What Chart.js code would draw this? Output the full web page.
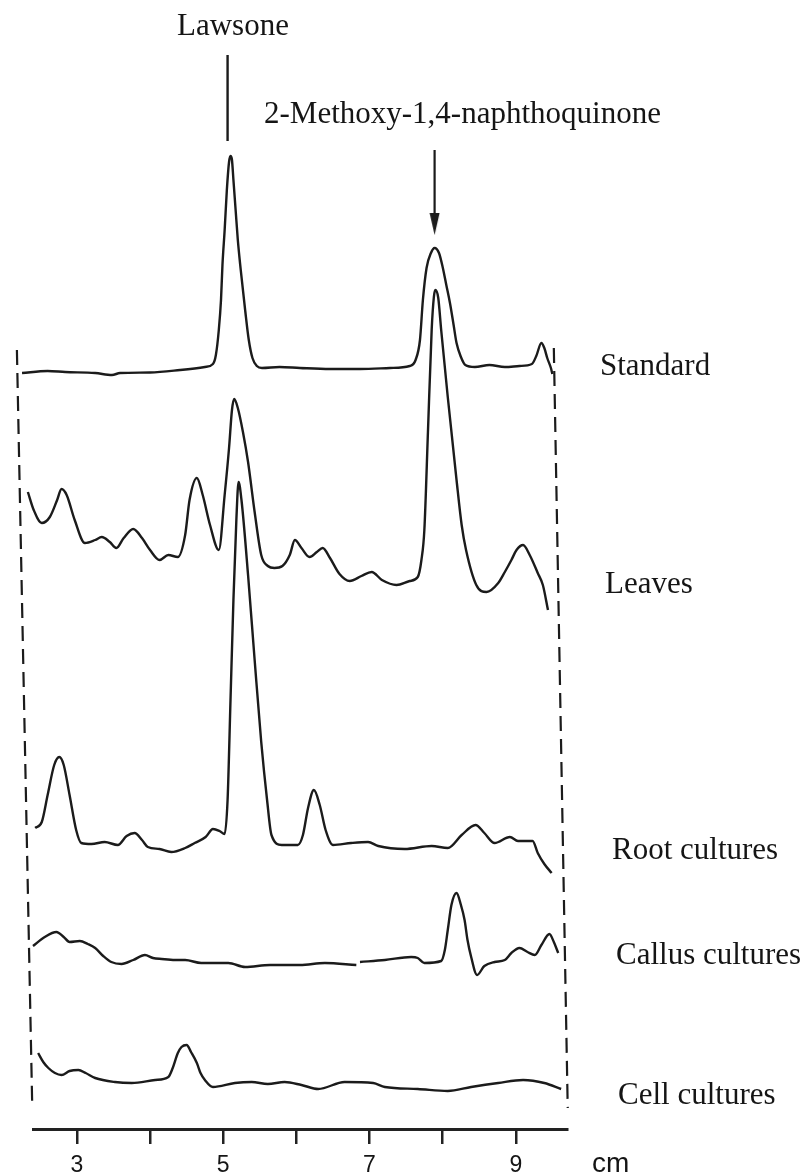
<!DOCTYPE html>
<html>
<head>
<meta charset="utf-8">
<script src="https://cdn.jsdelivr.net/npm/chart.js@4.4.1/dist/chart.umd.min.js"></script>
<style>
  html, body { margin: 0; padding: 0; background: #ffffff; }
  #wrap { width: 805px; height: 1176px; position: relative; background: #ffffff; overflow: hidden; }
  canvas { display: block; }
</style>
</head>
<body>
<div id="wrap"><canvas id="c" width="805" height="1176"></canvas></div>
<script>
// ---- Data (x in cm, signal = detector response above each trace's own baseline, arb. units) ----
const tickValues = [3, 4, 5, 6, 7, 8, 9];
const tickLabels = ['3', '', '5', '', '7', '', '9'];

const standardCm  = [2.25,2.60,2.84,3.25,3.48,3.59,4.00,4.41,4.75,4.86,4.90,4.94,4.97,4.99,5.02,5.05,5.08,5.10,5.12,5.14,5.17,5.20,5.24,5.30,5.35,5.40,5.46,5.53,5.77,6.05,6.46,6.87,7.28,7.55,7.63,7.69,7.73,7.78,7.84,7.89,7.95,8.00,8.05,8.10,8.15,8.19,8.25,8.31,8.44,8.64,8.85,9.05,9.22,9.28,9.35,9.39,9.43,9.48,9.50];
const standardSig = [-3,-1,-2,-3,-5,-3,-2.5,0,3,6,15,40,70,105,140,180,208,214,210,190,160,130,100,60,30,12,4,2,3,2,1,1,2,4,10,30,70,102,117,122,117,103,85,67,45,27,13,5,3,5,3,4,6,14,27,22,12,2,-4];

const leavesCm  = [2.33,2.41,2.52,2.63,2.73,2.79,2.86,2.97,3.11,3.25,3.34,3.45,3.54,3.64,3.77,3.89,4.00,4.13,4.25,4.38,4.48,4.54,4.64,4.72,4.82,4.94,5.02,5.08,5.12,5.15,5.20,5.27,5.34,5.43,5.52,5.61,5.70,5.81,5.91,5.98,6.07,6.18,6.28,6.36,6.46,6.59,6.73,6.89,7.03,7.17,7.37,7.55,7.66,7.71,7.75,7.80,7.85,7.88,7.90,7.94,7.98,8.07,8.19,8.26,8.32,8.46,8.60,8.76,8.85,8.94,9.01,9.10,9.19,9.30,9.37,9.44];
const leavesSig = [68,50,37,43,60,71,65,40,17,20,23,18,12,22,31,22,10,0,5,3,25,60,82,65,35,10,65,112,150,161,152,128,98,48,5,-6,-8,-6,5,20,12,3,8,12,2,-14,-21,-16,-12,-20,-25,-21,-17,0,30,130,230,263,270,262,230,163,80,35,10,-25,-32,-23,-12,0,10,15,5,-13,-25,-50];

const rootCm  = [2.43,2.52,2.60,2.69,2.76,2.82,2.90,2.99,3.06,3.20,3.38,3.56,3.68,3.79,3.89,3.97,4.13,4.29,4.48,4.61,4.76,4.86,4.95,5.02,5.06,5.10,5.14,5.18,5.21,5.25,5.34,5.43,5.52,5.60,5.66,5.80,6.02,6.09,6.16,6.24,6.32,6.40,6.50,6.75,6.98,7.12,7.48,7.85,8.07,8.26,8.45,8.57,8.71,8.92,9.03,9.23,9.30,9.39,9.49];
const rootSig = [17,23,50,80,88,80,50,15,2,1,3,0,9,12,5,-2,-4,-7,-3,2,8,16,14,11,45,145,245,325,363,345,270,185,103,45,10,0,0,10,37,55,40,15,0,2,3,-1,-4,-1,-3,10,20,12,2,8,4,4,-8,-19,-28];

const callusCm  = [2.40,2.56,2.72,2.82,2.90,3.04,3.15,3.25,3.36,3.47,3.61,3.77,3.93,4.04,4.16,4.34,4.48,4.70,5.07,5.30,5.64,6.05,6.39,6.82,6.84,6.87,7.21,7.57,7.66,7.75,7.98,8.03,8.07,8.12,8.19,8.25,8.30,8.34,8.39,8.47,8.57,8.71,8.85,8.94,9.05,9.16,9.26,9.35,9.46,9.52,9.58];
const callusSig = [17,26,31,26,21,22,19,15,7,1,-1,3,8,5,4,3,3,0,0,-4,-2,-2,0,-2,null,1,3,6,5,0,2,13,33,58,70,58,43,23,6,-12,-3,1,3,10,15,11,8,18,29,21,10];

const cellCm  = [2.47,2.54,2.61,2.70,2.79,2.90,3.02,3.12,3.25,3.52,3.75,4.07,4.25,4.31,4.38,4.43,4.50,4.56,4.64,4.69,4.75,4.86,5.16,5.39,5.61,5.84,6.07,6.30,6.66,7.05,7.21,7.66,8.07,8.39,8.76,9.10,9.39,9.62];
const cellSig = [29,20,14,9,7,11,12,9,4,0,-1,2,5,14,29,35,37,30,19,9,2,-5,-1,0,-2,0,-3,-7,0,-1,-5,-7,-9,-5,-1,2,-1,-7];

// Peak markers (x in cm)
const lawsoneCm = 5.06;
const mnqCm = 7.89;

// ---- Layout / styling (not data) ----
const traceOffsets = { standard: 759, leaves: 569, root: 284, callus: 166, cell: 47 };
const INK = '#1b1b1b';

function trace(cm, sig, off) {
  return cm.map((x, i) => ({ x: x, y: sig[i] === null ? null : off + sig[i] }));
}

function lineDs(data, extra) {
  return Object.assign({
    data: data,
    borderColor: INK,
    borderWidth: 2.4,
    pointRadius: 0,
    fill: false,
    clip: false,
    spanGaps: false,
    cubicInterpolationMode: 'monotone'
  }, extra || {});
}

// narrow downward arrowhead as point style
const arrowHead = document.createElement('canvas');
arrowHead.width = 11; arrowHead.height = 22;
(function () {
  const g = arrowHead.getContext('2d');
  g.fillStyle = INK;
  g.beginPath(); g.moveTo(0.5, 0); g.lineTo(10.5, 0); g.lineTo(5.5, 22); g.closePath(); g.fill();
})();

const labelPlugin = {
  id: 'labels',
  afterDraw(chart) {
    const ctx = chart.ctx;
    ctx.save();
    ctx.fillStyle = '#151515';
    ctx.textBaseline = 'alphabetic';
    ctx.textAlign = 'left';
    ctx.font = '31px "Liberation Serif", "DejaVu Serif", serif';
    ctx.fillText('Lawsone', 177, 35);
    ctx.fillText('2-Methoxy-1,4-naphthoquinone', 264, 123);
    ctx.fillText('Standard', 600, 375);
    ctx.fillText('Leaves', 605, 593);
    ctx.fillText('Root cultures', 612, 859);
    ctx.fillText('Callus cultures', 616, 964);
    ctx.fillText('Cell cultures', 618, 1104);
    ctx.font = '28px "Liberation Sans", "DejaVu Sans", sans-serif';
    ctx.fillText('cm', 592, 1172);
    ctx.restore();
  }
};

const datasets = [
  lineDs(trace(standardCm, standardSig, traceOffsets.standard)),
  lineDs(trace(leavesCm, leavesSig, traceOffsets.leaves)),
  lineDs(trace(rootCm, rootSig, traceOffsets.root)),
  lineDs(trace(callusCm, callusSig, traceOffsets.callus)),
  lineDs(trace(cellCm, cellSig, traceOffsets.cell)),
  // dashed frame of the plate
  lineDs([{ x: 2.18, y: 779 }, { x: 2.39, y: 21 }], { borderDash: [15, 8], borderWidth: 2.2, cubicInterpolationMode: 'default', tension: 0 }),
  lineDs([{ x: 9.52, y: 781 }, { x: 9.71, y: 21 }], { borderDash: [15, 8], borderWidth: 2.2, cubicInterpolationMode: 'default', tension: 0 }),
  // Lawsone marker line
  lineDs([{ x: lawsoneCm, y: 1074 }, { x: lawsoneCm, y: 988 }], { borderWidth: 2.4, cubicInterpolationMode: 'default', tension: 0 }),
  // 2-Methoxy-1,4-naphthoquinone arrow
  lineDs([{ x: mnqCm, y: 979 }, { x: mnqCm, y: 912 }], { borderWidth: 2.2, cubicInterpolationMode: 'default', tension: 0 }),
  lineDs([{ x: mnqCm, y: 905 }], { pointRadius: 8, pointStyle: arrowHead, showLine: false })
];

new Chart(document.getElementById('c'), {
  type: 'line',
  data: { datasets: datasets },
  options: {
    responsive: false,
    animation: false,
    devicePixelRatio: 1,
    layout: { padding: { left: 33, right: 238, top: 129, bottom: -11 } },
    plugins: { legend: { display: false }, tooltip: { enabled: false } },
    scales: {
      x: {
        type: 'linear',
        min: 2.4,
        max: 9.7,
        afterBuildTicks: (s) => { s.ticks = tickValues.map(v => ({ value: v })); },
        ticks: {
          callback: (v, i) => tickLabels[i],
          font: { family: '"Liberation Sans", "DejaVu Sans", sans-serif', size: 23, lineHeight: 1 },
          color: '#151515',
          padding: 10,
          maxRotation: 0,
          autoSkip: false
        },
        grid: { drawOnChartArea: false, drawTicks: true, tickLength: 15, lineWidth: 2.5, color: '#222' },
        border: { display: true, width: 3, color: '#222' }
      },
      y: { display: false, min: 0, max: 1000 }
    }
  },
  plugins: [labelPlugin]
});
</script>
</body>
</html>
